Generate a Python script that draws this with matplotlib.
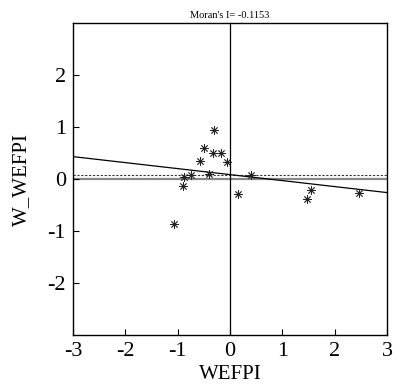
import numpy as np
import matplotlib.pyplot as plt

plt.rcParams['font.family'] = ['Liberation Serif', 'DejaVu Serif']
plt.rcParams['axes.unicode_minus'] = False

# standardised WEFPI and its spatial lag
wefpi = [-0.31, -0.50, -0.33, -0.17, -0.57, -0.05, -0.75, -0.40, -0.88,
         -0.89, 0.40, 0.15, -1.07, 1.54, 1.47, 2.46]
w_wefpi = [0.95, 0.59, 0.51, 0.51, 0.35, 0.33, 0.08, 0.10, 0.03,
           -0.14, 0.08, -0.29, -0.86, -0.21, -0.38, -0.27]
moran_i = -0.1153
intercept = 0.085
mean_line = 0.08
xticks = [-3, -2, -1, 0, 1, 2, 3]
yticks = [-2, -1, 0, 1, 2]

fig = plt.figure(figsize=(3.97, 3.85), dpi=100)
ax = fig.add_axes([0.184, 0.130, 0.791, 0.810])

# reference lines
ax.axhline(0, color='#888888', lw=1.6, zorder=1)
ax.axhline(mean_line, color='#333333', lw=0.8, ls=(0, (2, 1.5)), zorder=1)
ax.axvline(0, color='black', lw=0.9, zorder=1)

# regression line, slope = Moran's I
xs = np.array([-3, 3])
ax.plot(xs, intercept + moran_i * xs, color='black', lw=0.9, zorder=2)

ax.plot(wefpi, w_wefpi, ls='none', marker=(8, 2, 0), ms=6, mew=0.6,
        color='#222222', zorder=3)

ax.set_xlim(-3, 3)
ax.set_ylim(-3, 3)
ax.set_xticks(xticks)
ax.set_yticks(yticks)
ax.set_xticklabels([str(t) for t in xticks])
ax.set_yticklabels([str(t) for t in yticks])
ax.tick_params(direction='in', length=4, width=0.8, labelsize=16, pad=5)
for s in ax.spines.values():
    s.set_linewidth(1.0)

ax.set_xlabel('WEFPI', fontsize=15, labelpad=3)
ax.set_ylabel('W_WEFPI', fontsize=15, labelpad=12)
ax.set_title("Moran's I= %.4f" % moran_i, fontsize=7.5, pad=4)

fig.savefig('out.png', dpi=100)
